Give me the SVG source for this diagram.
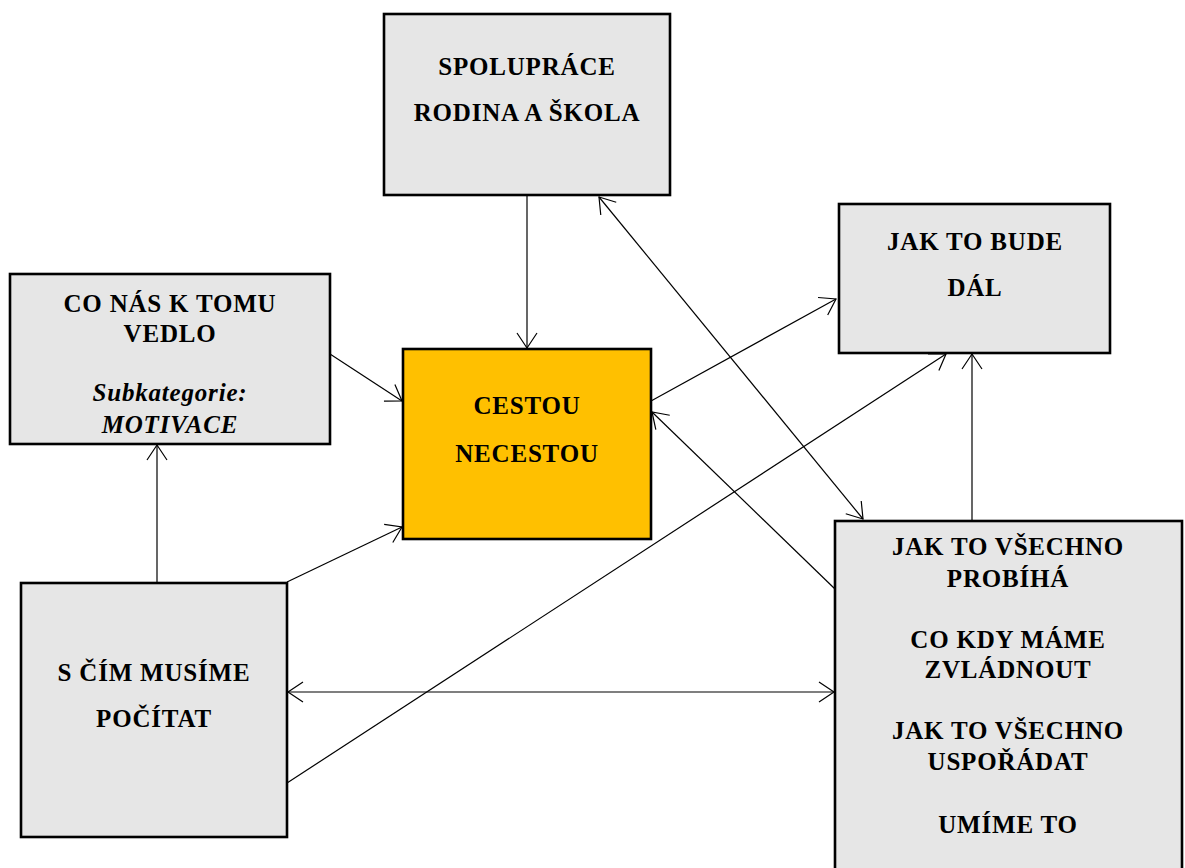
<svg xmlns="http://www.w3.org/2000/svg" width="1185" height="868" viewBox="0 0 1185 868">
<style>
.box{fill:#E6E6E6;stroke:#000;stroke-width:2.6}
.hl{fill:#FFC000;stroke:#000;stroke-width:2.6}
text{font-family:"Liberation Serif","Times New Roman",serif;font-weight:bold;font-size:25px;letter-spacing:0.8px;text-anchor:middle;fill:#000}
.it{font-style:italic}
.c{fill:none;stroke:#000;stroke-width:1.2}
</style>
<defs>
<marker id="ah" markerUnits="userSpaceOnUse" markerWidth="20" markerHeight="24" viewBox="-17 -12 20 24" refX="0" refY="0" orient="auto-start-reverse">
<path d="M-15,-10 L0,0 L-15,10" fill="none" stroke="#000" stroke-width="1.2"/>
</marker>
</defs>
<rect width="1185" height="868" fill="#fff"/>
<g id="n-spoluprace">
<rect class="box" x="384" y="14" width="286" height="181"/>
<text x="527" y="75">SPOLUPRÁCE</text>
<text x="527" y="121">RODINA A ŠKOLA</text>
</g>
<g id="n-co-nas">
<rect class="box" x="10" y="274" width="320" height="170"/>
<text x="170" y="312">CO NÁS K TOMU</text>
<text x="170" y="342">VEDLO</text>
<text class="it" x="170" y="401">Subkategorie:</text>
<text class="it" x="170" y="433">MOTIVACE</text>
</g>
<g id="n-cestou">
<rect class="hl" x="403" y="349" width="248" height="190"/>
<text x="527" y="414">CESTOU</text>
<text x="527" y="462">NECESTOU</text>
</g>
<g id="n-jak-dal">
<rect class="box" x="839" y="204" width="271" height="149"/>
<text x="975" y="250">JAK TO BUDE</text>
<text x="975" y="296">DÁL</text>
</g>
<g id="n-jak-vsechno">
<rect class="box" x="835" y="521" width="347" height="360"/>
<text x="1008" y="555">JAK TO VŠECHNO</text>
<text x="1008" y="587">PROBÍHÁ</text>
<text x="1008" y="648">CO KDY MÁME</text>
<text x="1008" y="678">ZVLÁDNOUT</text>
<text x="1008" y="739">JAK TO VŠECHNO</text>
<text x="1008" y="770">USPOŘÁDAT</text>
<text x="1008" y="833">UMÍME TO</text>
</g>
<g id="n-s-cim">
<rect class="box" x="21" y="583" width="266" height="254"/>
<text x="154" y="681">S ČÍM MUSÍME</text>
<text x="154" y="727">POČÍTAT</text>
</g>
<g id="connectors">
<line class="c" x1="527" y1="196" x2="527" y2="348" marker-end="url(#ah)"/>
<line class="c" x1="330" y1="354" x2="402" y2="401" marker-end="url(#ah)"/>
<line class="c" x1="287" y1="582" x2="402" y2="527" marker-end="url(#ah)"/>
<line class="c" x1="157" y1="582" x2="157" y2="445" marker-end="url(#ah)"/>
<line class="c" x1="288" y1="692" x2="834" y2="692" marker-start="url(#ah)" marker-end="url(#ah)"/>
<line class="c" x1="287" y1="783" x2="946" y2="354" marker-end="url(#ah)"/>
<line class="c" x1="972" y1="520" x2="972" y2="354" marker-end="url(#ah)"/>
<line class="c" x1="651" y1="401" x2="836" y2="299" marker-end="url(#ah)"/>
<line class="c" x1="835" y1="589" x2="652" y2="412" marker-end="url(#ah)"/>
<line class="c" x1="599" y1="197" x2="863" y2="519" marker-start="url(#ah)" marker-end="url(#ah)"/>
</g>
</svg>
